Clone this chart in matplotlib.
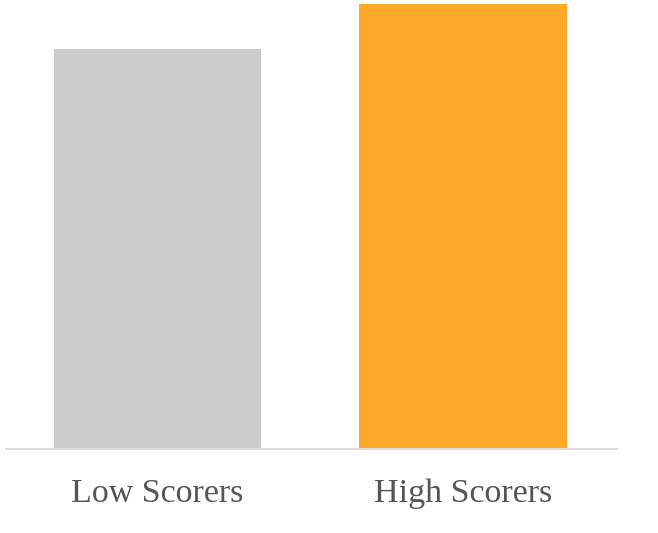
import matplotlib
matplotlib.use('Agg')
import matplotlib.pyplot as plt

# Data
groups = ['Low Scorers', 'High Scorers']
scores = [90, 100]
colors = ['#cccccc', '#fea82a']

fig = plt.figure(figsize=(6.58, 5.33), dpi=100)
ax = fig.add_axes([6 / 658, 84 / 533, 611 / 658, 445 / 533])

ax.bar(range(len(groups)), scores, width=0.678, color=colors)
ax.set_xlim(-0.496, 1.504)
ax.set_ylim(0, 100)

ax.set_xticks(range(len(groups)))
ax.set_xticklabels(groups, fontfamily='Liberation Serif', fontsize=24.5, color='#555555')
ax.tick_params(axis='x', length=0, pad=21)
ax.set_yticks([])

for s in ['top', 'right', 'left']:
    ax.spines[s].set_visible(False)
ax.spines['bottom'].set_color('#dddddd')
ax.spines['bottom'].set_linewidth(1.5)

fig.savefig('out.png', dpi=100)
